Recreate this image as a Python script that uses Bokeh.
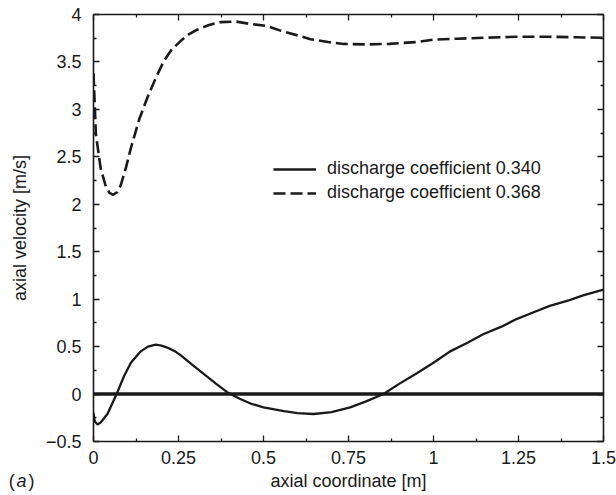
from bokeh.plotting import figure
from bokeh.models import (FixedTicker, LinearAxis, Legend, LegendItem, Span, Title)
from bokeh.embed import file_html
from bokeh.resources import INLINE

# ---- data ----
x_340 = [0, 0.004, 0.012, 0.021, 0.041, 0.068, 0.09, 0.11, 0.139, 0.16, 0.183, 0.2,
         0.217, 0.24, 0.256, 0.29, 0.325, 0.36, 0.393, 0.43, 0.462, 0.5, 0.56, 0.6,
         0.647, 0.7, 0.755, 0.8, 0.853, 0.9, 0.951, 1.0, 1.049, 1.1, 1.146, 1.2,
         1.244, 1.3, 1.342, 1.4, 1.44, 1.5]
v_340 = [-0.20, -0.29, -0.32, -0.30, -0.21, 0.0, 0.19, 0.33, 0.45, 0.50, 0.52, 0.51,
         0.49, 0.45, 0.41, 0.31, 0.21, 0.11, 0.02, -0.05, -0.10, -0.14, -0.18, -0.20,
         -0.21, -0.19, -0.14, -0.08, 0.0, 0.11, 0.22, 0.33, 0.45, 0.54, 0.63, 0.71,
         0.79, 0.87, 0.93, 0.99, 1.04, 1.10]

x_368 = [0, 0.007, 0.021, 0.036, 0.047, 0.058, 0.07, 0.08, 0.095, 0.109, 0.134, 0.158,
         0.183, 0.207, 0.23, 0.256, 0.28, 0.305, 0.34, 0.374, 0.42, 0.462, 0.51, 0.55,
         0.6, 0.638, 0.69, 0.736, 0.804, 0.87, 0.951, 1.0, 1.07, 1.146, 1.245, 1.342,
         1.42, 1.5]
v_368 = [3.38, 2.74, 2.38, 2.19, 2.12, 2.10, 2.13, 2.20, 2.38, 2.58, 2.89, 3.12,
         3.33, 3.51, 3.63, 3.72, 3.79, 3.84, 3.89, 3.92, 3.925, 3.90, 3.88, 3.83,
         3.78, 3.74, 3.71, 3.69, 3.685, 3.69, 3.71, 3.735, 3.745, 3.755, 3.765, 3.765,
         3.76, 3.755]

labels = ["discharge coefficient 0.340", "discharge coefficient 0.368"]

x_ticks = [0, 0.25, 0.5, 0.75, 1.0, 1.25, 1.5]
x_tick_labels = ["0", "0.25", "0.5", "0.75", "1", "1.25", "1.5"]
x_minor = [0.125, 0.375, 0.625, 0.875, 1.125, 1.375]
y_ticks = [-0.5, 0, 0.5, 1, 1.5, 2, 2.5, 3, 3.5, 4]
y_tick_labels = ["\u22120.5", "0", "0.5", "1", "1.5", "2", "2.5", "3", "3.5", "4"]
y_minor = [-0.25, 0.25, 0.75, 1.25, 1.75, 2.25, 2.75, 3.25, 3.75]

FONT = "Liberation Sans"
FS = "18px"
INK = "#1a1a1a"

p = figure(width=616, height=495, x_range=(0, 1.5), y_range=(-0.5, 4),
           output_backend="svg", toolbar_location=None,
           min_border_left=93, min_border_right=13, min_border_top=14, min_border_bottom=54)
p.xgrid.grid_line_color = None
p.ygrid.grid_line_color = None
p.outline_line_color = None
p.background_fill_color = "white"
p.border_fill_color = "white"

p.add_layout(LinearAxis(), "above")
p.add_layout(LinearAxis(), "right")

xt = FixedTicker(ticks=x_ticks, minor_ticks=x_minor)
yt = FixedTicker(ticks=y_ticks, minor_ticks=y_minor)

for ax in p.xaxis:
    ax.ticker = xt
for ax in p.yaxis:
    ax.ticker = yt

for ax in p.xaxis + p.yaxis:
    ax.axis_line_width = 1.6
    ax.axis_line_color = INK
    ax.major_tick_in = 6
    ax.major_tick_out = 0
    ax.minor_tick_in = 3
    ax.minor_tick_out = 0
    ax.major_tick_line_width = 1.3
    ax.minor_tick_line_width = 1.3
    ax.major_tick_line_color = INK
    ax.minor_tick_line_color = INK
    ax.major_label_text_font = FONT
    ax.major_label_text_font_size = FS
    ax.major_label_text_color = INK
    ax.axis_label_text_font = FONT
    ax.axis_label_text_font_size = FS
    ax.axis_label_text_font_style = "normal"
    ax.axis_label_text_color = INK

# no labels on the top/right axes
p.above[0].major_label_overrides = {t: "" for t in x_ticks}
p.above[0].major_label_text_font_size = "1px"
p.above[0].major_label_standoff = 0
p.right[0].major_label_overrides = {t: "" for t in y_ticks}
p.right[0].major_label_text_font_size = "1px"
p.right[0].major_label_standoff = 0

bx = p.below[0]
bx.major_label_overrides = dict(zip(x_ticks, x_tick_labels))
bx.major_label_standoff = 9
bx.axis_label = "axial coordinate [m]"
bx.axis_label_standoff = 4

ly = p.left[0]
ly.major_label_overrides = dict(zip(y_ticks, y_tick_labels))
ly.major_label_standoff = 12
ly.axis_label = "axial velocity [m/s]"
ly.axis_label_standoff = 13

# zero line
p.add_layout(Span(location=0, dimension="width", line_color=INK, line_width=3.5))

r1 = p.line(x_340, v_340, line_color=INK, line_width=2.3)
r2 = p.line(x_368, v_368, line_color=INK, line_width=2.6, line_dash="12 5")

legend = Legend(items=[LegendItem(label=labels[0], renderers=[r1]),
                       LegendItem(label=labels[1], renderers=[r2])],
                location=(180, 238), border_line_color=None, background_fill_alpha=0,
                padding=0, margin=0, spacing=3, glyph_width=43, glyph_height=20,
                label_height=20, label_standoff=11, label_text_font=FONT,
                label_text_font_size=FS, label_text_color=INK)
p.add_layout(legend)

# panel tag "(a)" as zero-height titles in the bottom side panel,
# shifted up onto the row of the x-axis title
for txt, off, style in [("(", -84.7, "normal"),
                        ("a", -77.0, "italic"),
                        (")", -65.0, "normal")]:
    p.add_layout(Title(text=txt, align="left", offset=off, standoff=-46,
                       vertical_align="top", text_font=FONT, text_font_size=FS,
                       text_font_style=style, text_color=INK), "below")

open("out.html", "w").write(file_html(p, INLINE))
